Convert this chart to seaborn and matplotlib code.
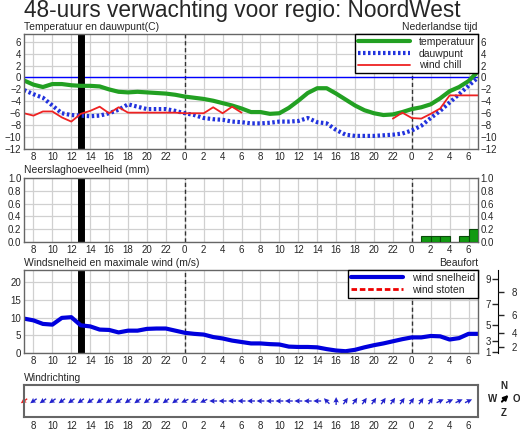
import numpy as np
import matplotlib
matplotlib.use("Agg")
import matplotlib.pyplot as plt
import seaborn as sns

# hours since midnight of day 1 (7 = 07:00 day 1, 55 = 07:00 day 3)
hours = list(range(7, 56))

temperatuur = [-0.5, -1.2, -1.6, -1.1, -1.1, -1.3, -1.4, -1.4, -1.5, -2.0, -2.4, -2.5, -2.4,
               -2.5, -2.6, -2.7, -2.9, -3.2, -3.4, -3.6, -3.9, -4.3, -4.7, -5.2, -5.8,
               -5.8, -6.1, -6.0, -5.1, -3.9, -2.6, -1.8, -1.8, -2.7, -3.7, -4.7, -5.5,
               -6.0, -6.3, -6.2, -5.8, -5.3, -5.0, -4.5, -3.5, -2.3, -1.6, -0.6, 1.0]
dauwpunt = [-2.1, -2.8, -3.4, -4.7, -6.0, -6.3, -6.4, -6.5, -6.4, -6.0, -5.4, -4.5, -4.9,
            -5.3, -5.3, -5.3, -5.6, -6.0, -6.3, -6.8, -7.0, -7.1, -7.4, -7.5, -7.7,
            -7.7, -7.6, -7.4, -7.4, -7.3, -6.8, -7.5, -7.7, -8.8, -9.6, -9.8, -9.8,
            -9.8, -9.7, -9.6, -9.4, -8.9, -8.1, -6.8, -5.6, -4.2, -2.8, -1.4, 0.0]
nan = np.nan
windchill = [-6.0, -6.4, -5.7, -5.7, -6.7, -7.4, -6.1, -5.6, -4.9, -6.0, -5.0, -5.9, -5.9,
             -5.9, -5.9, -5.9, -5.9, -6.0, -6.0, -6.0, -5.0, -6.0, -4.9, -5.9, nan,
             nan, nan, nan, nan, nan, nan, nan, nan, nan, nan, nan, nan,
             nan, nan, -6.9, -5.9, -6.8, -6.9, -6.1, -5.2, -3.0, -3.0, -3.0, -3.0]

neerslag_uur = [49, 50, 51, 53, 54]
neerslag_mm = [0.1, 0.1, 0.1, 0.1, 0.2]

windsnelheid = [9.7, 9.2, 8.2, 8.0, 9.9, 10.1, 7.8, 7.5, 6.6, 6.5, 5.8, 6.3, 6.3,
                6.8, 6.9, 6.9, 6.3, 5.7, 5.4, 5.2, 4.5, 4.1, 3.5, 3.1, 2.7,
                2.7, 2.5, 2.4, 1.8, 1.7, 1.7, 1.6, 1.1, 0.7, 0.5, 0.9, 1.6,
                2.2, 2.7, 3.3, 3.9, 4.4, 4.4, 4.8, 4.7, 3.8, 4.2, 5.4, 5.4]

# wind direction (degrees, where the wind comes from), one arrow per hour 7..54
richting_uur = list(range(7, 55))
richting = [55] * 17 + [65] * 3 + [90] * 12 + [135, 180] + [215] * 10 + [245] * 4

beaufort = [1, 2, 3, 4, 5, 6, 7, 8, 9]
beaufort_ms = [0.3, 1.6, 3.4, 5.5, 8.0, 10.8, 13.9, 17.2, 20.8]

now_hour = 13
midnights = [24, 48]
xticks = list(range(8, 55, 2))
xlabels = [str(h % 24) for h in xticks]

sns.set_style("white")
plt.rcParams['font.family'] = ['Liberation Sans', 'DejaVu Sans']
plt.rcParams['font.size'] = 7

fig = plt.figure(figsize=(5.2, 4.33), dpi=100)
W, H = 520, 433


def box(l, t, r, b):
    return [l / W, 1 - b / H, (r - l) / W, (b - t) / H]


fig.text(24 / W, 1 - 11 / H, "48-uurs verwachting voor regio: NoordWest",
         fontsize=16.3, va="center", ha="left")


def base_axes(ax):
    ax.set_xlim(7, 55)
    ax.set_xticks(xticks)
    ax.set_xticklabels(xlabels)
    ax.grid(True, color="#d0d0d0", lw=0.9)
    ax.tick_params(length=0, pad=2, labelsize=7)
    for s in ax.spines.values():
        s.set_color("#666666")
        s.set_linewidth(1)
    for m in midnights:
        ax.axvline(m, color="#333333", ls=(0, (3, 2)), lw=1)


def boxed_legend(ax):
    leg = ax.legend(loc="upper right", borderaxespad=0, fontsize=7.5, handlelength=5,
                    labelspacing=0.15, fancybox=False, framealpha=1, edgecolor="black",
                    borderpad=0.3)
    leg.get_frame().set_linewidth(1)


# ---- temperature panel
ax1 = fig.add_axes(box(24, 34, 478, 149))
base_axes(ax1)
ax1.set_ylim(-12, 7.3)
ax1.set_yticks(range(-12, 7, 2))
ax1.tick_params(labelright=True)
ax1.axhline(0, color="#0000ff", lw=1)
ax1.axvline(now_hour, color="black", lw=5)
sns.lineplot(x=hours, y=temperatuur, ax=ax1, color="#22a022", lw=3, label="temperatuur")
sns.lineplot(x=hours, y=dauwpunt, ax=ax1, color="#2233dd", lw=3, ls=(0, (0.6, 0.6)),
             label="dauwpunt")
# plain plot so the gap (NaN) in wind chill stays open
ax1.plot(hours, windchill, color="#ee2222", lw=1.3, label="wind chill")
boxed_legend(ax1)
fig.text(24 / W, 1 - 27 / H, "Temperatuur en dauwpunt(C)", fontsize=7.5, va="center")
fig.text(478 / W, 1 - 27 / H, "Nederlandse tijd", fontsize=7.5, va="center", ha="right")

# ---- precipitation panel
ax2 = fig.add_axes(box(24, 178, 478, 242))
base_axes(ax2)
ax2.set_ylim(0, 1.0)
ax2.set_yticks(np.arange(0, 1.01, 0.2))
ax2.set_yticklabels([f"{v:.1f}" for v in np.arange(0, 1.01, 0.2)])
ax2.tick_params(labelright=True)
ax2.axvline(now_hour, color="black", lw=5)
ax2.bar(neerslag_uur, neerslag_mm, width=1, align="edge", color="#129a12",
        edgecolor="#0a4a0a", lw=0.8, zorder=3)
fig.text(24 / W, 1 - 170 / H, "Neerslaghoeveelheid (mm)", fontsize=7.5, va="center")

# ---- wind speed panel
ax3 = fig.add_axes(box(24, 270, 478, 353))
base_axes(ax3)
ax3.set_ylim(0, 23.4)
ax3.set_yticks([0, 5, 10, 15, 20])
ax3.axvline(now_hour, color="black", lw=5)
sns.lineplot(x=hours, y=windsnelheid, ax=ax3, color="#0000dd", lw=3, label="wind snelheid")
ax3.plot([], [], color="#ee0000", ls=(0, (2, 1)), lw=2, label="wind stoten")
boxed_legend(ax3)
fig.text(24 / W, 1 - 263 / H, "Windsnelheid en maximale wind (m/s)", fontsize=7.5, va="center")
fig.text(478 / W, 1 - 263 / H, "Beaufort", fontsize=7.5, va="center", ha="right")

# Beaufort scale: odd labels left of the spine, even labels right of it
pos = 1 + 20 / 454
ax_odd = ax3.twinx()
ax_even = ax3.twinx()
for a in (ax_odd, ax_even):
    a.set_ylim(0, 23.4)
    a.grid(False)
    for s in a.spines.values():
        s.set_visible(False)
ax_odd.spines["left"].set_visible(True)
ax_odd.spines["left"].set_position(("axes", pos))
ax_odd.spines["left"].set_color("black")
ax_odd.yaxis.set_ticks_position("left")
ax_odd.set_yticks(beaufort_ms[0::2])
ax_odd.set_yticklabels([str(b) for b in beaufort[0::2]])
ax_odd.tick_params(axis="y", length=4, width=1, direction="out", pad=1, labelsize=7)
ax_even.spines["right"].set_position(("axes", pos))
ax_even.yaxis.set_ticks_position("right")
ax_even.set_yticks(beaufort_ms[1::2])
ax_even.set_yticklabels([str(b) for b in beaufort[1::2]])
ax_even.tick_params(axis="y", length=4, width=1, direction="out", pad=6, labelsize=7)

# ---- wind direction panel
ax4 = fig.add_axes(box(24, 385, 478, 417))
ax4.set_xlim(7, 55)
ax4.set_ylim(-1, 1)
ax4.set_xticks(xticks)
ax4.set_xticklabels(xlabels)
ax4.set_yticks([])
ax4.tick_params(length=0, pad=3, labelsize=7)
for s in ax4.spines.values():
    s.set_color("#666666")
    s.set_linewidth(1.5)
rad = np.deg2rad(richting)
u = -np.sin(rad)
v = -np.cos(rad)
colors = ["#ee2222"] + ["#2222cc"] * (len(richting_uur) - 1)
ax4.quiver(richting_uur, np.zeros(len(richting_uur)), u, v, color=colors,
           angles="uv", scale=58, width=0.003, headwidth=4, headlength=4,
           headaxislength=3.5, pivot="middle", clip_on=False)
fig.text(24 / W, 1 - 378 / H, "Windrichting", fontsize=7.5, va="center")

# compass
axc = fig.add_axes(box(488, 383, 520, 416))
axc.set_xlim(-1, 1)
axc.set_ylim(-1, 1)
axc.axis("off")
axc.annotate("", xy=(0.4, 0.4), xytext=(-0.25, -0.25),
             arrowprops=dict(arrowstyle="-|>", color="black", lw=1.5, mutation_scale=7))
for txt, x, y in [("N", 0, 0.82), ("Z", 0, -0.82), ("W", -0.72, 0), ("O", 0.78, 0)]:
    axc.text(x, y, txt, ha="center", va="center", fontsize=7, fontweight="bold")

fig.savefig("out.png", dpi=100)
